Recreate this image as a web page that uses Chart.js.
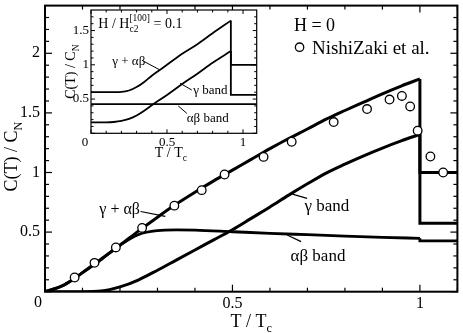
<!DOCTYPE html>
<html><head><meta charset="utf-8">
<script src="https://cdn.jsdelivr.net/npm/chart.js@4/dist/chart.umd.min.js"></script>
<style>
html,body{margin:0;padding:0;background:#fff;}
#wrap{position:relative;width:463px;height:333px;overflow:hidden;}
canvas{position:absolute;left:0;top:0;}
</style></head><body>
<div id="wrap"><canvas id="main" width="463" height="333"></canvas><canvas id="inset" width="463" height="333"></canvas></div>
<script>
// ===== main panel data (H = 0) =====
const totalT = [0, 0.05, 0.1, 0.15, 0.2, 0.25, 0.3, 0.35, 0.4, 0.45, 0.5, 0.55, 0.6, 0.65, 0.7, 0.75, 0.8, 0.85, 0.9, 0.95, 1.0];
const totalC = [0, 0.055, 0.16, 0.275, 0.39, 0.51, 0.625, 0.735, 0.835, 0.93, 1.02, 1.11, 1.2, 1.285, 1.365, 1.447, 1.52, 1.59, 1.66, 1.725, 1.785];
const gammaT = [0, 0.1, 0.15, 0.2, 0.25, 0.3, 0.35, 0.4, 0.45, 0.5, 0.55, 0.6, 0.65, 0.7, 0.75, 0.8, 0.85, 0.9, 0.95, 1.0];
const gammaC = [0, 0, 0.005, 0.04, 0.1, 0.18, 0.265, 0.35, 0.435, 0.52, 0.615, 0.71, 0.81, 0.905, 0.995, 1.07, 1.14, 1.205, 1.265, 1.32];
const abT = [0, 0.05, 0.1, 0.15, 0.2, 0.25, 0.3, 0.35, 0.4, 0.5, 0.6, 0.7, 0.8, 0.9, 1.0];
const abC = [0, 0.055, 0.16, 0.27, 0.39, 0.48, 0.512, 0.518, 0.516, 0.503, 0.49, 0.478, 0.466, 0.456, 0.448];
// normal-state parts (jump at Tc)
const totalNT = [1.0, 1.0, 1.1];
const totalNC = [1.785, 1.0, 1.0];
const gammaNT = [1.0, 1.0, 1.1];
const gammaNC = [1.32, 0.574, 0.574];
const abNT = [1.0, 1.0, 1.1];
const abNC = [0.448, 0.426, 0.426];
// experiment (NishiZaki et al.)
const expT = [0.079, 0.132, 0.189, 0.259, 0.345, 0.418, 0.479, 0.583, 0.658, 0.770, 0.859, 0.919, 0.952, 0.974, 0.994, 1.028, 1.062];
const expC = [0.119, 0.242, 0.371, 0.535, 0.722, 0.852, 0.983, 1.131, 1.258, 1.423, 1.532, 1.612, 1.642, 1.554, 1.351, 1.134, 1.0];
// main ticks
const mainXTicks = [0, 0.5, 1];
const mainXLabels = ['', '0.5', '1'];
const mainYTicks = [0, 0.5, 1, 1.5, 2];
const mainYLabels = ['', '0.5', '1', '1.5', '2'];
const mainXMinor = [0.1, 0.2, 0.3, 0.4, 0.6, 0.7, 0.8, 0.9, 1.1];
const mainYMinor = [0.1, 0.2, 0.3, 0.4, 0.6, 0.7, 0.8, 0.9, 1.1, 1.2, 1.3, 1.4, 1.6, 1.7, 1.8, 1.9, 2.1, 2.2, 2.3];

// ===== inset data (H / Hc2 = 0.1) =====
const inTotalT = [0, 0.1, 0.2, 0.25, 0.3, 0.35, 0.4, 0.45, 0.5, 0.6, 0.7, 0.8, 0.92];
const inTotalC = [0.6, 0.6, 0.605, 0.625, 0.675, 0.75, 0.84, 0.92, 1.0, 1.16, 1.3, 1.46, 1.645];
const inGammaT = [0, 0.1, 0.15, 0.2, 0.25, 0.3, 0.35, 0.4, 0.5, 0.6, 0.7, 0.8, 0.92];
const inGammaC = [0.16, 0.16, 0.165, 0.18, 0.21, 0.26, 0.33, 0.41, 0.56, 0.72, 0.87, 1.03, 1.2];
const inAbT = [0, 0.5, 1.09];
const inAbC = [0.425, 0.425, 0.425];
const inTotalNT = [0.92, 0.92, 1.09];
const inTotalNC = [1.645, 1.0, 1.0];
const inGammaNT = [0.92, 0.92, 1.09];
const inGammaNC = [1.2, 0.56, 0.56];
const inXTicks = [0, 0.5, 1];
const inXLabels = ['', '0.5', '1'];
const inYTicks = [0, 0.5, 1, 1.5];
const inYLabels = ['', '0.5', '1', '1.5'];
const inXMinor = [0.1, 0.2, 0.3, 0.4, 0.6, 0.7, 0.8, 0.9];
const inYMinor = [0.1, 0.2, 0.3, 0.4, 0.6, 0.7, 0.8, 0.9, 1.1, 1.2, 1.3, 1.4, 1.6, 1.7];

const FAM = "'Liberation Serif','Times New Roman',serif";
Chart.defaults.font.family = FAM;
Chart.defaults.color = '#000';

const pts = (xs, ys) => xs.map((x, i) => ({x, y: ys[i]}));

function partWidth(ctx, p, size) {
  if (p.sub !== undefined || p.sup !== undefined) {
    ctx.font = (size * 0.68) + 'px ' + FAM;
    return Math.max(ctx.measureText(p.sub || '').width, ctx.measureText(p.sup || '').width);
  }
  ctx.font = (p.s ? size * 0.68 : size) + 'px ' + FAM;
  return ctx.measureText(p.t).width;
}
function drawRich(ctx, parts, x, y, size, align, rot) {
  ctx.save();
  ctx.translate(x, y);
  if (rot) ctx.rotate(rot);
  ctx.fillStyle = '#000';
  ctx.textBaseline = 'alphabetic';
  ctx.textAlign = 'left';
  let w = 0;
  parts.forEach(p => w += partWidth(ctx, p, size));
  let cx = align === 'center' ? -w / 2 : 0;
  parts.forEach(p => {
    const pw = partWidth(ctx, p, size);
    if (p.sub !== undefined || p.sup !== undefined) {
      ctx.font = (size * 0.68) + 'px ' + FAM;
      if (p.sub) ctx.fillText(p.sub, cx, size * 0.28);
      if (p.sup) ctx.fillText(p.sup, cx, -size * 0.5);
    } else {
      ctx.font = (p.s ? size * 0.68 : size) + 'px ' + FAM;
      ctx.fillText(p.t, cx, p.s === 'sub' ? size * 0.28 : 0);
    }
    cx += pw;
  });
  ctx.restore();
}

const decor = {
  id: 'decor',
  beforeDatasetsDraw(chart, args, o) {
    if (!o.fill) return;
    const {ctx, chartArea: a} = chart;
    ctx.save(); ctx.fillStyle = '#fff';
    ctx.fillRect(a.left, a.top, a.right - a.left, a.bottom - a.top);
    ctx.restore();
  },
  afterDraw(chart, args, o) {
    const {ctx, chartArea: a, scales: {x, y}} = chart;
    ctx.save();
    ctx.strokeStyle = '#000';
    const ln = (x1, y1, x2, y2) => { ctx.beginPath(); ctx.moveTo(x1, y1); ctx.lineTo(x2, y2); ctx.stroke(); };
    ctx.lineWidth = o.tickWidth;
    const tx = (vals, len) => vals.forEach(v => { const p = x.getPixelForValue(v); ln(p, a.bottom, p, a.bottom - len); ln(p, a.top, p, a.top + len); });
    const ty = (vals, len) => vals.forEach(v => { const p = y.getPixelForValue(v); ln(a.left, p, a.left + len, p); ln(a.right, p, a.right - len, p); });
    tx(o.xMajor, o.major); tx(o.xMinor, o.minor);
    ty(o.yMajor, o.major); ty(o.yMinor, o.minor);
    ctx.lineWidth = o.frameWidth;
    ctx.strokeRect(a.left, a.top, a.right - a.left, a.bottom - a.top);
    // leader lines
    ctx.lineWidth = o.leaderWidth;
    (o.leaders || []).forEach(l => ln(x.getPixelForValue(l[0]), y.getPixelForValue(l[1]), x.getPixelForValue(l[2]), y.getPixelForValue(l[3])));
    // legend marker
    if (o.marker) {
      ctx.beginPath();
      ctx.arc(x.getPixelForValue(o.marker[0]), y.getPixelForValue(o.marker[1]), o.marker[2], 0, Math.PI * 2);
      ctx.fillStyle = '#fff'; ctx.fill(); ctx.lineWidth = 1.3; ctx.stroke();
    }
    ctx.restore();
    // data-anchored labels
    (o.labels || []).forEach(l => drawRich(ctx, l.parts, x.getPixelForValue(l.x), y.getPixelForValue(l.y), l.size, l.align || 'left', 0));
    // axis titles
    const cxm = (a.left + a.right) / 2, cym = (a.top + a.bottom) / 2;
    drawRich(ctx, o.xTitle, cxm + o.xTitleDx, a.bottom + o.xTitleDy, o.titleSize, 'center', 0);
    drawRich(ctx, o.yTitle, a.left - o.yTitleDx, cym + o.yTitleDy, o.titleSize, 'center', -Math.PI / 2);
  }
};

function fixAxis(size, horiz) {
  return s => {
    if (horiz) s.height = size; else s.width = size;
    s.paddingTop = 0; s.paddingBottom = 0; s.paddingLeft = 0; s.paddingRight = 0;
  };
}

const tEq = [{t: 'T / T'}, {t: 'c', s: 'sub'}];
const cEq = [{t: 'C(T) / C'}, {t: 'N', s: 'sub'}];

// ===== main chart =====
const lineDs = (xs, ys, w) => ({data: pts(xs, ys), showLine: true, borderColor: '#000', borderWidth: w, pointRadius: 0, cubicInterpolationMode: 'monotone', fill: false, order: 1, borderCapStyle: 'butt', borderJoinStyle: 'miter'});
const stepDs = (xs, ys, w) => ({data: pts(xs, ys), showLine: true, borderColor: '#000', borderWidth: w, pointRadius: 0, tension: 0, fill: false, order: 1});

new Chart(document.getElementById('main'), {
  type: 'scatter',
  data: {datasets: [
    {data: pts(expT, expC), showLine: false, pointRadius: 4.3, pointBackgroundColor: '#fff', pointBorderColor: '#000', pointBorderWidth: 1.3, order: 0},
    lineDs(totalT, totalC, 3),
    lineDs(gammaT, gammaC, 3),
    lineDs(abT, abC, 2.8),
    stepDs(totalNT, totalNC, 3),
    stepDs(gammaNT, gammaNC, 3),
    stepDs(abNT, abNC, 2.8)
  ]},
  options: {
    responsive: false, animation: false, devicePixelRatio: 1,
    layout: {padding: {top: 0.5, right: 1.3, left: 0, bottom: 0}},
    plugins: {
      legend: {display: false}, tooltip: {enabled: false},
      decor: {
        fill: false, tickWidth: 1.2, frameWidth: 2, major: 7, minor: 4, leaderWidth: 1.2,
        xMajor: mainXTicks, xMinor: mainXMinor, yMajor: mainYTicks, yMinor: mainYMinor,
        marker: [0.679, 2.051, 4.2],
        leaders: [[0.255, 0.673, 0.321, 0.632], [0.660, 0.819, 0.699, 0.783], [0.646, 0.475, 0.683, 0.420]],
        labels: [
          {parts: [{t: 'H = 0'}], x: 0.664, y: 2.189, size: 18},
          {parts: [{t: 'NishiZaki et al.'}], x: 0.712, y: 1.997, size: 19},
          {parts: [{t: 'γ + αβ'}], x: 0.145, y: 0.648, size: 16},
          {parts: [{t: 'γ band'}], x: 0.692, y: 0.673, size: 17},
          {parts: [{t: 'αβ band'}], x: 0.655, y: 0.261, size: 17},
          {parts: [{t: '0'}], x: -0.0185, y: -0.125, size: 16, align: 'center'}
        ],
        xTitle: tEq, xTitleDx: 0, xTitleDy: 35, yTitle: cEq, yTitleDx: 28, yTitleDy: 8, titleSize: 18
      }
    },
    scales: {
      x: {type: 'linear', min: 0, max: 1.1,
        afterBuildTicks: s => { s.ticks = mainXTicks.map(v => ({value: v})); },
        afterFit: fixAxis(41.3, true),
        ticks: {callback: (v, i) => mainXLabels[i], font: {size: 16}, color: '#000', padding: 2, maxRotation: 0, autoSkip: false},
        grid: {display: false, drawTicks: false}, border: {display: false}},
      y: {type: 'linear', min: 0, max: 2.4,
        afterBuildTicks: s => { s.ticks = mainYTicks.map(v => ({value: v})); },
        afterFit: fixAxis(45, false),
        ticks: {callback: (v, i) => mainYLabels[i], font: {size: 16}, color: '#000', padding: 5, autoSkip: false},
        grid: {display: false, drawTicks: false}, border: {display: false}}
    }
  },
  plugins: [decor]
});

// ===== inset chart =====
const thin = (xs, ys, mono) => ({data: pts(xs, ys), showLine: true, borderColor: '#000', borderWidth: 1.8, pointRadius: 0, fill: false, tension: 0, cubicInterpolationMode: mono ? 'monotone' : 'default'});
new Chart(document.getElementById('inset'), {
  type: 'scatter',
  data: {datasets: [
    thin(inTotalT, inTotalC, true),
    thin(inGammaT, inGammaC, true),
    thin(inAbT, inAbC, false),
    thin(inTotalNT, inTotalNC, false),
    thin(inGammaNT, inGammaNC, false)
  ]},
  options: {
    responsive: false, animation: false, devicePixelRatio: 1,
    layout: {padding: {top: 10, left: 61, right: 206.3, bottom: 179.7}},
    plugins: {
      legend: {display: false}, tooltip: {enabled: false},
      decor: {
        fill: true, tickWidth: 1, frameWidth: 1.2, major: 4, minor: 2.5, leaderWidth: 1,
        xMajor: inXTicks, xMinor: inXMinor, yMajor: inYTicks, yMinor: inYMinor,
        leaders: [[0.344, 1.055, 0.454, 0.924], [0.586, 0.730, 0.663, 0.632], [0.574, 0.399, 0.63, 0.292]],
        labels: [
          {parts: [{t: 'H / H'}, {sub: 'c2', sup: '[100]'}, {t: ' = 0.1'}], x: 0.048, y: 1.533, size: 14},
          {parts: [{t: 'γ + αβ'}], x: 0.14, y: 0.99, size: 13},
          {parts: [{t: 'γ band'}], x: 0.673, y: 0.581, size: 13},
          {parts: [{t: 'αβ band'}], x: 0.63, y: 0.165, size: 13},
          {parts: [{t: '0'}], x: -0.039, y: -0.18, size: 13, align: 'center'}
        ],
        xTitle: tEq, xTitleDx: -3, xTitleDy: 24, yTitle: cEq, yTitleDx: 16, yTitleDy: 0, titleSize: 14
      }
    },
    scales: {
      x: {type: 'linear', min: 0, max: 1.09,
        afterBuildTicks: s => { s.ticks = inXTicks.map(v => ({value: v})); },
        afterFit: fixAxis(20, true),
        ticks: {callback: (v, i) => inXLabels[i], font: {size: 13}, color: '#000', padding: 1, maxRotation: 0, autoSkip: false},
        grid: {display: false, drawTicks: false}, border: {display: false}},
      y: {type: 'linear', min: 0, max: 1.8,
        afterBuildTicks: s => { s.ticks = inYTicks.map(v => ({value: v})); },
        afterFit: fixAxis(30, false),
        ticks: {callback: (v, i) => inYLabels[i], font: {size: 13}, color: '#000', padding: 2, autoSkip: false},
        grid: {display: false, drawTicks: false}, border: {display: false}}
    }
  },
  plugins: [decor]
});
</script>
</body></html>
